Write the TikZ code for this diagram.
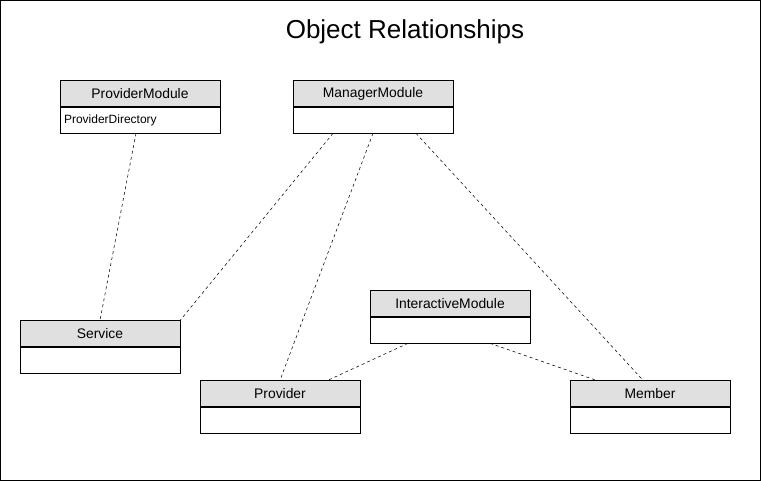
\documentclass[tikz,border=0pt]{standalone}
\usepackage{fontspec}
\setmainfont{Liberation Sans}
\usepackage{xcolor}
\usepackage{tikz}
\usetikzlibrary{positioning}

\definecolor{hdrgray}{RGB}{224,224,224}

\begin{document}
\begin{tikzpicture}[
    x=0.75pt, y=-0.75pt,
    clshead/.style={rectangle, draw, fill=hdrgray, minimum width=120pt, minimum height=19.5pt, inner sep=0pt, font=\fontsize{10.4}{12}\selectfont},
    clsbody/.style={rectangle, draw, fill=white, minimum width=120pt, minimum height=19.5pt, inner sep=0pt, font=\fontsize{9}{11}\selectfont},
    link/.style={thin, dash pattern=on 2.25pt off 2.25pt}
]
    \useasboundingbox (0,0) rectangle (761,481);
    \draw[line width=0.75pt] (0.5,0.5) rectangle (760.5,480.5);

    % Title
    \node[font=\fontsize{19.5}{23}\selectfont] (title) at (405,32) {Object Relationships};

    % Classes
    \node[clshead] (pm) at (140,93.5) {ProviderModule};
    \node[clsbody, below=0pt of pm, text width=114pt, align=left] (pmb) {ProviderDirectory};

    \node[clshead] (mm) at (373,93.5) {ManagerModule};
    \node[clsbody, below=0pt of mm] (mmb) {};

    \node[clshead] (svc) at (100,333.5) {Service};
    \node[clsbody, below=0pt of svc] (svcb) {};

    \node[clshead] (im) at (450,303.5) {InteractiveModule};
    \node[clsbody, below=0pt of im] (imb) {};

    \node[clshead] (prov) at (280,393.5) {Provider};
    \node[clsbody, below=0pt of prov] (provb) {};

    \node[clshead] (mem) at (650,393.5) {Member};
    \node[clsbody, below=0pt of mem] (memb) {};

    % Relationships
    \draw[link] ([xshift=-3pt]pmb.south) -- (svc.north);
    \draw[link] ([xshift=-30pt]mmb.south) -- (svc.north east);
    \draw[link] (mmb.south) -- (prov.north);
    \draw[link] ([xshift=32.25pt]mmb.south) -- ([xshift=-5.25pt]mem.north);
    \draw[link] ([xshift=-31.5pt]imb.south) -- ([xshift=36pt]prov.north);
    \draw[link] ([xshift=30pt]imb.south) -- ([xshift=-40.5pt]mem.north);
\end{tikzpicture}
\end{document}
